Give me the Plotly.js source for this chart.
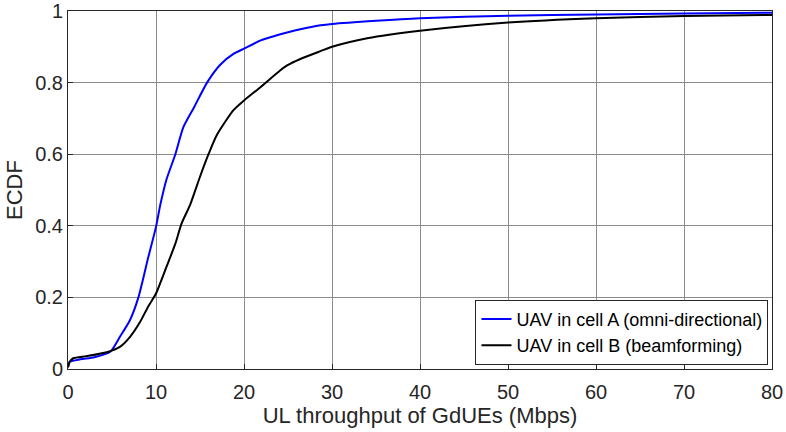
<!DOCTYPE html>
<html>
<head>
<meta charset="utf-8">
<script src="https://cdn.plot.ly/plotly-3.0.1.min.js"></script>
<style>html,body{margin:0;padding:0;background:#fff;}#chart{width:786px;height:432px;}</style>
</head>
<body>
<div id="chart"></div>
<script>
const xA = [0, 0.2, 1.4, 3, 4.8, 5.9, 7.05, 8.0, 9.1, 10, 10.5, 11.2, 12.2, 13.1, 14.3, 15.8, 17.3, 18.8, 20, 21.9, 24.9, 26.4, 28.7, 30, 35, 40, 50, 60, 70, 80];
const yA = [0.005, 0.02, 0.027, 0.033, 0.048, 0.09, 0.137, 0.2, 0.31, 0.397, 0.46, 0.53, 0.6, 0.675, 0.73, 0.8, 0.85, 0.88, 0.895, 0.918, 0.94, 0.949, 0.96, 0.964, 0.973, 0.98, 0.987, 0.99, 0.993, 0.995];
const xB = [0, 0.2, 0.6, 2.1, 4.4, 5.9, 7.05, 8.2, 9.1, 10, 11.2, 12.2, 12.9, 13.9, 15.0, 16.0, 16.9, 18.8, 20, 21.9, 24.1, 24.9, 26.4, 28.7, 30, 34, 40, 50, 60, 70, 80];
const yB = [0.005, 0.02, 0.03, 0.036, 0.047, 0.062, 0.09, 0.132, 0.174, 0.211, 0.286, 0.35, 0.406, 0.46, 0.537, 0.602, 0.653, 0.723, 0.75, 0.788, 0.834, 0.848, 0.866, 0.888, 0.9, 0.924, 0.945, 0.968, 0.98, 0.986, 0.989];
const names = ['UAV in cell A (omni-directional)', 'UAV in cell B (beamforming)'];
const xTicks = [0, 10, 20, 30, 40, 50, 60, 70, 80];
const yTicks = [0, 0.2, 0.4, 0.6, 0.8, 1];
const yTickText = ['0', '0.2', '0.4', '0.6', '0.8', '1'];

const FONT = 'Liberation Sans, Arial, sans-serif';
const traces = [
  {x: xA, y: yA, name: names[0], mode: 'lines', line: {color: '#0000ff', width: 2, shape: 'spline', smoothing: 0.6}},
  {x: xB, y: yB, name: names[1], mode: 'lines', line: {color: '#000000', width: 2, shape: 'spline', smoothing: 0.6}}
];
const axCommon = {
  showline: true, mirror: true, linecolor: '#262626', linewidth: 1,
  showgrid: true, gridcolor: '#8c8c8c', gridwidth: 1,
  ticks: 'inside', ticklen: 5, tickcolor: '#262626',
  zeroline: false,
  tickfont: {family: FONT, size: 20, color: '#262626'}
};
const layout = {
  width: 786, height: 432,
  margin: {l: 68, r: 14, t: 11, b: 63},
  paper_bgcolor: '#fff', plot_bgcolor: '#fff',
  showlegend: true,
  xaxis: Object.assign({}, axCommon, {
    range: [0, 80], tickvals: xTicks, ticktext: xTicks.map(String),
    ticklabelstandoff: 5,
    title: {text: 'UL throughput of GdUEs (Mbps)', standoff: 3,
      font: {family: FONT, size: 22, color: '#262626'}}
  }),
  yaxis: Object.assign({}, axCommon, {
    range: [0, 1], tickvals: yTicks, ticktext: yTickText,
    title: {text: 'ECDF', standoff: 6,
      font: {family: FONT, size: 22, color: '#262626'}}
  }),
  legend: {
    x: 0.995, y: 0.012, xanchor: 'right', yanchor: 'bottom',
    bgcolor: '#fff', bordercolor: '#262626', borderwidth: 1,
    font: {family: FONT, size: 18, color: '#000'},
    itemwidth: 30, tracegroupgap: 0
  }
};
Plotly.newPlot('chart', traces, layout, {displayModeBar: false, staticPlot: true});
</script>
</body>
</html>
